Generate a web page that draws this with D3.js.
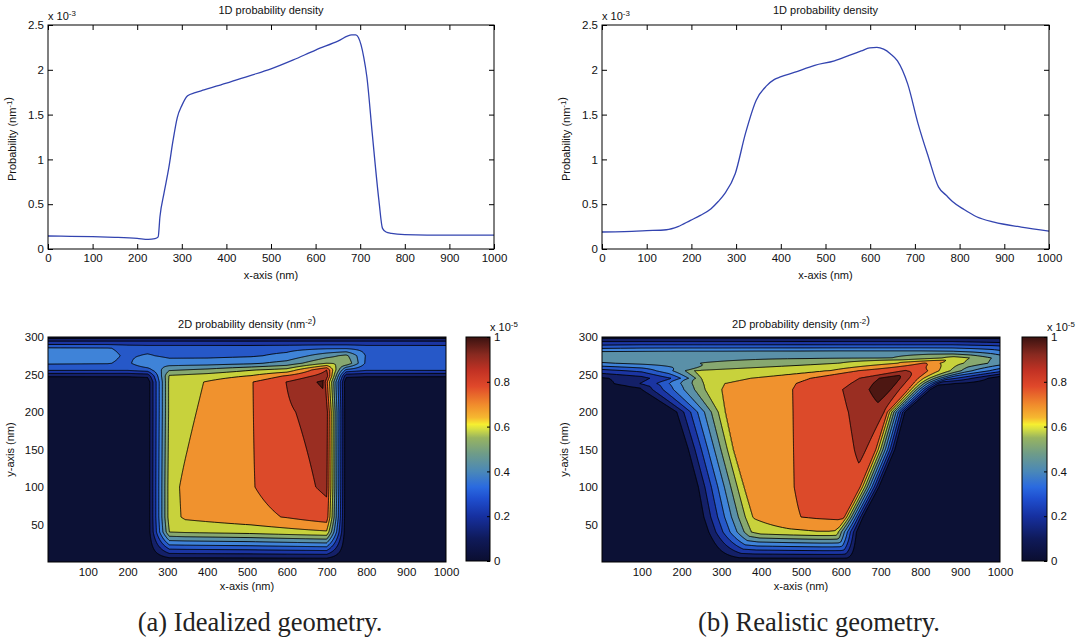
<!DOCTYPE html>
<html><head><meta charset="utf-8">
<script src="https://cdn.jsdelivr.net/npm/d3@7"></script>
<style>
body{margin:0;background:#fff;}
svg{display:block;}
</style></head><body>
<svg id="chart" width="1079" height="639"></svg>
<script>
// ---------------- DATA ----------------
const xTicks1D = [0,100,200,300,400,500,600,700,800,900,1000];
const yTicks1D = [0,0.5,1,1.5,2,2.5];
const xTicks2D = [100,200,300,400,500,600,700,800,900,1000];
const yTicks2D = [50,100,150,200,250,300];
const cbTicks = [0,0.2,0.4,0.6,0.8,1];

// 1D probability density (units of 1e-3 nm^-1)
const densA_x = [0,50,100,150,200,225,240,247,251,260,271,280,290,300,313,330,350,400,450,500,550,600,650,681,690,696,708,715,727,742,750,758,770,800,850,900,1000];
const densA_y = [0.145,0.142,0.138,0.13,0.118,0.108,0.115,0.135,0.36,0.62,0.91,1.2,1.47,1.6,1.71,1.745,1.775,1.85,1.93,2.01,2.11,2.22,2.32,2.39,2.39,2.36,2.14,1.92,1.29,0.54,0.23,0.19,0.175,0.16,0.155,0.155,0.155];
const densB_x = [0,50,100,144,170,198,220,244,260,275,298,321,345,368,385,399,430,476,520,553,580,599,615,630,645,661,684,707,730,753,770,784,810,838,877,938,1000];
const densB_y = [0.19,0.195,0.205,0.215,0.25,0.32,0.375,0.45,0.53,0.62,0.84,1.29,1.66,1.82,1.89,1.92,1.97,2.05,2.1,2.16,2.21,2.245,2.25,2.23,2.18,2.10,1.84,1.40,1.03,0.69,0.60,0.53,0.44,0.36,0.30,0.245,0.20];

// contour levels (units of 1e-5 nm^-2)
const levels = [0.08,0.16,0.24,0.32,0.40,0.48,0.56,0.64,0.72,0.80,0.88];

// 2D density, panel (a): profiles along x read at several heights y
const rowsY_a = [0,40,60,100,150,200,240,248,256,265,275,285,294,300];
const rowsX_a = [
 [0,150,200,250,305,345,510,600,700,749,800,1000],
 [0,150,200,250,305,345,510,600,700,749,800,1000],
 [0,150,200,250,305,345,510,600,700,749,800,1000],
 [0,150,200,250,305,340,510,600,700,749,800,1000],
 [0,150,200,250,305,355,510,600,700,749,800,1000],
 [0,150,200,250,305,375,510,600,700,749,800,1000],
 [0,150,200,250,305,394,510,600,690,749,800,1000],
 [0,150,200,250,305,400,510,600,700,749,800,1000],
 [0,150,200,250,305,400,510,600,700,749,800,1000],
 [0,150,200,250,305,400,510,600,700,749,800,1000],
 [0,150,200,250,305,400,510,600,700,749,800,1000],
 [0,150,200,250,305,400,510,600,700,749,800,1000],
 [0,150,200,250,305,400,510,600,700,749,800,1000],
 [0,150,200,250,305,400,510,600,700,749,800,1000]
];
const rowsV_a = [
 [0.01,0.01,0.01,0.01,0.0,0.0,0.0,0.0,0.0,0.01,0.01,0.01],
 [0.01,0.01,0.01,0.02,0.56,0.57,0.59,0.61,0.63,0.02,0.01,0.01],
 [0.01,0.01,0.01,0.02,0.60,0.655,0.695,0.725,0.77,0.02,0.01,0.01],
 [0.01,0.01,0.01,0.02,0.60,0.655,0.715,0.76,0.815,0.02,0.01,0.01],
 [0.01,0.01,0.01,0.02,0.59,0.645,0.715,0.775,0.825,0.02,0.01,0.01],
 [0.01,0.01,0.01,0.02,0.58,0.642,0.715,0.79,0.835,0.02,0.01,0.01],
 [0.01,0.01,0.01,0.02,0.58,0.642,0.715,0.802,0.895,0.02,0.01,0.01],
 [0.09,0.09,0.09,0.10,0.57,0.60,0.645,0.73,0.84,0.10,0.09,0.09],
 [0.25,0.25,0.25,0.28,0.47,0.50,0.555,0.59,0.80,0.30,0.25,0.25],
 [0.33,0.325,0.30,0.40,0.36,0.365,0.385,0.43,0.56,0.55,0.30,0.29],
 [0.37,0.345,0.305,0.33,0.30,0.30,0.31,0.34,0.45,0.50,0.31,0.30],
 [0.33,0.325,0.30,0.29,0.29,0.29,0.29,0.295,0.31,0.31,0.29,0.29],
 [0.17,0.17,0.17,0.17,0.17,0.17,0.17,0.17,0.17,0.17,0.17,0.17],
 [0.04,0.04,0.04,0.04,0.04,0.04,0.04,0.04,0.04,0.04,0.04,0.04]
];

// 2D density, panel (b)
const rowsY_b = [0,40,60,100,150,200,230,238,245,255,265,272,280,288,295,300];
const rowsX_b = [
 [0,100,200,280,340,380,470,560,590,610,620,640,1000],
 [0,100,200,255,375,400,470,540,570,585,590,645,1000],
 [0,100,200,243,360,380,480,540,570,595,608,660,1000],
 [0,100,200,230,340,357,470,560,600,630,645,700,1000],
 [0,100,200,205,315,330,470,560,620,655,685,740,1000],
 [0,100,170,175,292,310,470,560,615,680,712,765,1000],
 [0,40,60,80,259,302,470,560,607,712,770,830,1000],
 [0,70,120,155,255,310,480,580,628,722,783,850,1000],
 [0,100,180,230,250,377,528,600,650,732,795,870,1000],
 [0,100,160,200,233,574,645,720,762,775,820,930,1000],
 [0,100,200,250,400,599,745,790,810,830,850,910,1000],
 [0,100,200,300,400,500,600,731,856,885,925,980,1000],
 [0,100,200,300,400,500,600,700,800,880,930,980,1000],
 [0,100,200,300,400,500,600,700,800,880,930,980,1000],
 [0,100,200,300,400,500,600,700,800,880,930,980,1000],
 [0,100,200,300,400,500,600,700,800,880,930,980,1000]
];
const rowsV_b = [
 [0,0,0,0,0,0,0,0,0,0,0,0,0],
 [0.01,0.01,0.01,0.02,0.56,0.60,0.62,0.635,0.635,0.63,0.60,0.02,0.01],
 [0.01,0.01,0.01,0.02,0.56,0.645,0.715,0.73,0.735,0.74,0.735,0.02,0.01],
 [0.01,0.01,0.01,0.02,0.56,0.642,0.715,0.75,0.765,0.775,0.77,0.02,0.01],
 [0.01,0.01,0.01,0.02,0.56,0.642,0.715,0.755,0.79,0.815,0.76,0.02,0.01],
 [0.01,0.01,0.01,0.02,0.56,0.642,0.715,0.76,0.797,0.845,0.795,0.02,0.01],
 [0.01,0.01,0.01,0.02,0.56,0.642,0.715,0.765,0.802,0.93,0.718,0.02,0.01],
 [0.05,0.12,0.20,0.28,0.56,0.642,0.716,0.767,0.802,0.94,0.718,0.10,0.02],
 [0.07,0.13,0.25,0.45,0.562,0.642,0.722,0.77,0.802,0.94,0.718,0.28,0.02],
 [0.21,0.26,0.36,0.45,0.562,0.642,0.722,0.77,0.805,0.79,0.718,0.40,0.27],
 [0.39,0.42,0.45,0.482,0.51,0.562,0.642,0.70,0.728,0.70,0.638,0.558,0.44],
 [0.46,0.46,0.465,0.465,0.47,0.47,0.475,0.482,0.562,0.60,0.558,0.478,0.45],
 [0.41,0.415,0.42,0.42,0.425,0.425,0.43,0.43,0.43,0.42,0.40,0.37,0.35],
 [0.26,0.27,0.27,0.27,0.27,0.27,0.27,0.27,0.27,0.27,0.26,0.25,0.24],
 [0.14,0.14,0.14,0.14,0.14,0.14,0.14,0.14,0.14,0.14,0.13,0.12,0.12],
 [0.05,0.05,0.05,0.05,0.05,0.05,0.05,0.05,0.05,0.05,0.05,0.05,0.05]
];

// ---------------- STYLE ----------------
const bandColors = ["#0c1135","#142068","#1b35a2","#2658c8","#3f83d8","#5a90a8","#87a870","#c8d23c","#f0922e","#dc4a2a","#9a2e22","#4d1712"];
const cbStops = [[0,"#0b0e30"],[0.1,"#0f1a5a"],[0.2,"#1630a0"],[0.28,"#1f4fd0"],[0.33,"#2a6ae0"],[0.4,"#4a88b8"],[0.48,"#6f9c88"],[0.55,"#98b460"],[0.59,"#d8e040"],[0.61,"#f6ef30"],[0.64,"#f6b830"],[0.7,"#f08a2c"],[0.78,"#e0482a"],[0.85,"#c23224"],[0.92,"#8a2a20"],[1,"#3a1210"]];
const SANS = '"Liberation Sans", Arial, Helvetica, sans-serif';
const lineColor = "#3344b0";

const svg = d3.select("#chart");
const defs = svg.append("defs");

function styleAxis(sel){
  sel.attr("font-family", SANS).attr("font-size", 11.5);
  sel.select(".domain").remove();
  sel.selectAll(".tick line").attr("stroke","#000");
  sel.selectAll(".tick text").attr("fill","#111");
}
function textWithSup(parent, x, y, parts, opts){
  const t = parent.append("text").attr("x",x).attr("y",y)
    .attr("font-family",SANS).attr("font-size",opts.size||11).attr("fill","#111")
    .attr("text-anchor",opts.anchor||"middle");
  if (opts.rotate) t.attr("transform",`rotate(-90,${x},${y})`);
  parts.forEach(p=>{
    if (p.sup) {
      t.append("tspan").attr("dy","-0.45em").attr("font-size",(opts.size||11)*0.72).text(p.text);
      t.append("tspan").attr("dy","0.45em").text("");
    } else t.append("tspan").text(p.text);
  });
  return t;
}

// ---------------- TOP: 1D density ----------------
const topPanels = [
  {l:48,r:494,t:25,b:249,xs:densA_x,ys:densA_y},
  {l:602,r:1049,t:25,b:249,xs:densB_x,ys:densB_y}
];
topPanels.forEach((p,pi)=>{
  const g = svg.append("g");
  const x = d3.scaleLinear().domain([0,1000]).range([p.l,p.r]);
  const y = d3.scaleLinear().domain([0,2.5]).range([p.b,p.t]);
  g.append("g").attr("transform",`translate(0,${p.b})`)
    .call(d3.axisBottom(x).tickValues(xTicks1D).tickSize(-5).tickPadding(5).tickFormat(d=>String(d))).call(styleAxis);
  g.append("g").attr("transform",`translate(0,${p.t})`)
    .call(d3.axisTop(x).tickValues(xTicks1D).tickSize(-5).tickFormat("")).call(styleAxis);
  g.append("g").attr("transform",`translate(${p.l},0)`)
    .call(d3.axisLeft(y).tickValues(yTicks1D).tickSize(-5).tickPadding(4).tickFormat(d=>String(d))).call(styleAxis);
  g.append("g").attr("transform",`translate(${p.r},0)`)
    .call(d3.axisRight(y).tickValues(yTicks1D).tickSize(-5).tickFormat("")).call(styleAxis);
  const line = d3.line().x((d,i)=>x(p.xs[i])).y((d,i)=>y(p.ys[i])).curve(d3.curveMonotoneX);
  g.append("path").datum(p.xs).attr("d",line).attr("fill","none").attr("stroke",lineColor).attr("stroke-width",1.3);
  g.append("rect").attr("x",p.l).attr("y",p.t).attr("width",p.r-p.l).attr("height",p.b-p.t)
    .attr("fill","none").attr("stroke","#000").attr("stroke-width",1);
  const cx = (p.l+p.r)/2;
  g.append("text").attr("x",cx).attr("y",14).attr("text-anchor","middle").attr("font-family",SANS)
    .attr("font-size",11).attr("fill","#111").text("1D probability density");
  g.append("text").attr("x",cx).attr("y",279).attr("text-anchor","middle").attr("font-family",SANS)
    .attr("font-size",11).attr("fill","#111").text("x-axis (nm)");
  textWithSup(g, p.l, 20, [{text:"x 10"},{text:"-3",sup:true}], {anchor:"start",size:11});
  textWithSup(g, p.l-32, (p.t+p.b)/2+2, [{text:"Probability (nm"},{text:"-1",sup:true},{text:")"}], {rotate:true,size:11});
});

// ---------------- BOTTOM: 2D density ----------------
function buildGrid(rowsY, rowsX, rowsV, nx, ny, gx0, gdx, gy0, gdy){
  const vals = new Float64Array(nx*ny);
  for (let j=0;j<ny;j++){
    const yv = Math.max(rowsY[0], Math.min(rowsY[rowsY.length-1], gy0 + j*gdy));
    let r = 0; while (r < rowsY.length-2 && yv > rowsY[r+1]) r++;
    const t = (yv - rowsY[r])/(rowsY[r+1]-rowsY[r]);
    const X = rowsX[r].map((xx,k)=> xx + t*(rowsX[r+1][k]-xx));
    const V = rowsV[r].map((vv,k)=> vv + t*(rowsV[r+1][k]-vv));
    let k = 0;
    for (let i=0;i<nx;i++){
      const xv = Math.max(0, Math.min(1000, gx0 + i*gdx));
      while (k < X.length-2 && xv > X[k+1]) k++;
      const u = (xv - X[k])/(X[k+1]-X[k]);
      vals[i + j*nx] = V[k] + u*(V[k+1]-V[k]);
    }
  }
  return vals;
}

const botPanels = [
  {l:48,r:446,t:337,b:562,cbl:466,cbr:490,rowsY:rowsY_a,rowsX:rowsX_a,rowsV:rowsV_a},
  {l:602,r:1000,t:337,b:562,cbl:1022,cbr:1047,rowsY:rowsY_b,rowsX:rowsX_b,rowsV:rowsV_b}
];
botPanels.forEach((p,pi)=>{
  const g = svg.append("g");
  const x = d3.scaleLinear().domain([0,1000]).range([p.l,p.r]);
  const y = d3.scaleLinear().domain([0,300]).range([p.b,p.t]);
  const nx = 405, ny = 307, gx0 = -5, gdx = 2.5, gy0 = -3, gdy = 1;
  const vals = buildGrid(p.rowsY, p.rowsX, p.rowsV, nx, ny, gx0, gdx, gy0, gdy);
  const cs = d3.contours().size([nx,ny]).thresholds(levels)(vals);
  const proj = d3.geoTransform({point(px,py){ this.stream.point(x(gx0+(px-0.5)*gdx), y(gy0+(py-0.5)*gdy)); }});
  const path = d3.geoPath(proj);
  const cid = "clip"+pi;
  defs.append("clipPath").attr("id",cid).append("rect")
    .attr("x",p.l).attr("y",p.t).attr("width",p.r-p.l).attr("height",p.b-p.t);
  const cg = g.append("g").attr("clip-path",`url(#${cid})`);
  cg.append("rect").attr("x",p.l).attr("y",p.t).attr("width",p.r-p.l).attr("height",p.b-p.t).attr("fill",bandColors[0]);
  cg.selectAll("path.f").data(cs).join("path").attr("class","f").attr("d",path).attr("fill",(d,i)=>bandColors[i+1]);
  cg.selectAll("path.s").data(cs).join("path").attr("class","s").attr("d",path)
    .attr("fill","none").attr("stroke","#000").attr("stroke-width",0.9).attr("stroke-linejoin","round");
  g.append("rect").attr("x",p.l).attr("y",p.t).attr("width",p.r-p.l).attr("height",p.b-p.t)
    .attr("fill","none").attr("stroke","#000").attr("stroke-width",1);
  g.append("g").attr("transform",`translate(0,${p.b})`)
    .call(d3.axisBottom(x).tickValues(xTicks2D).tickSize(0).tickPadding(6).tickFormat(d=>String(d))).call(styleAxis);
  g.append("g").attr("transform",`translate(${p.l},0)`)
    .call(d3.axisLeft(y).tickValues(yTicks2D).tickSize(0).tickPadding(4).tickFormat(d=>String(d))).call(styleAxis);
  const cx = (p.l+p.r)/2;
  textWithSup(g, cx, 328, [{text:"2D probability density (nm"},{text:"-2",sup:true},{text:")"}], {size:11});
  g.append("text").attr("x",cx).attr("y",590).attr("text-anchor","middle").attr("font-family",SANS)
    .attr("font-size",11).attr("fill","#111").text("x-axis (nm)");
  textWithSup(g, p.l-34, (p.t+p.b)/2, [{text:"y-axis (nm)"}], {rotate:true,size:11});

  // colorbar
  const gid = "cbgrad"+pi;
  const grad = defs.append("linearGradient").attr("id",gid).attr("x1",0).attr("y1",1).attr("x2",0).attr("y2",0);
  cbStops.forEach(s=>grad.append("stop").attr("offset",s[0]).attr("stop-color",s[1]));
  const cy = d3.scaleLinear().domain([0,1]).range([561,337]);
  g.append("rect").attr("x",p.cbl).attr("y",cy(1)).attr("width",p.cbr-p.cbl).attr("height",cy(0)-cy(1))
    .attr("fill",`url(#${gid})`).attr("stroke","#000").attr("stroke-width",1);
  g.append("g").attr("transform",`translate(${p.cbr},0)`)
    .call(d3.axisRight(cy).tickValues(cbTicks).tickSize(-3).tickPadding(4).tickFormat(d=>String(d))).call(styleAxis);
  textWithSup(g, p.cbr, 331, [{text:"x 10"},{text:"-5",sup:true}], {anchor:"start",size:11});
});

// captions
const SERIF = '"Liberation Serif", "DejaVu Serif", serif';
svg.append("text").attr("x",260).attr("y",631).attr("text-anchor","middle").attr("font-family",SERIF)
  .attr("font-size",26.5).attr("fill","#222").text("(a) Idealized geometry.");
svg.append("text").attr("x",819).attr("y",631).attr("text-anchor","middle").attr("font-family",SERIF)
  .attr("font-size",26.5).attr("fill","#222").text("(b) Realistic geometry.");
</script>
</body></html>
